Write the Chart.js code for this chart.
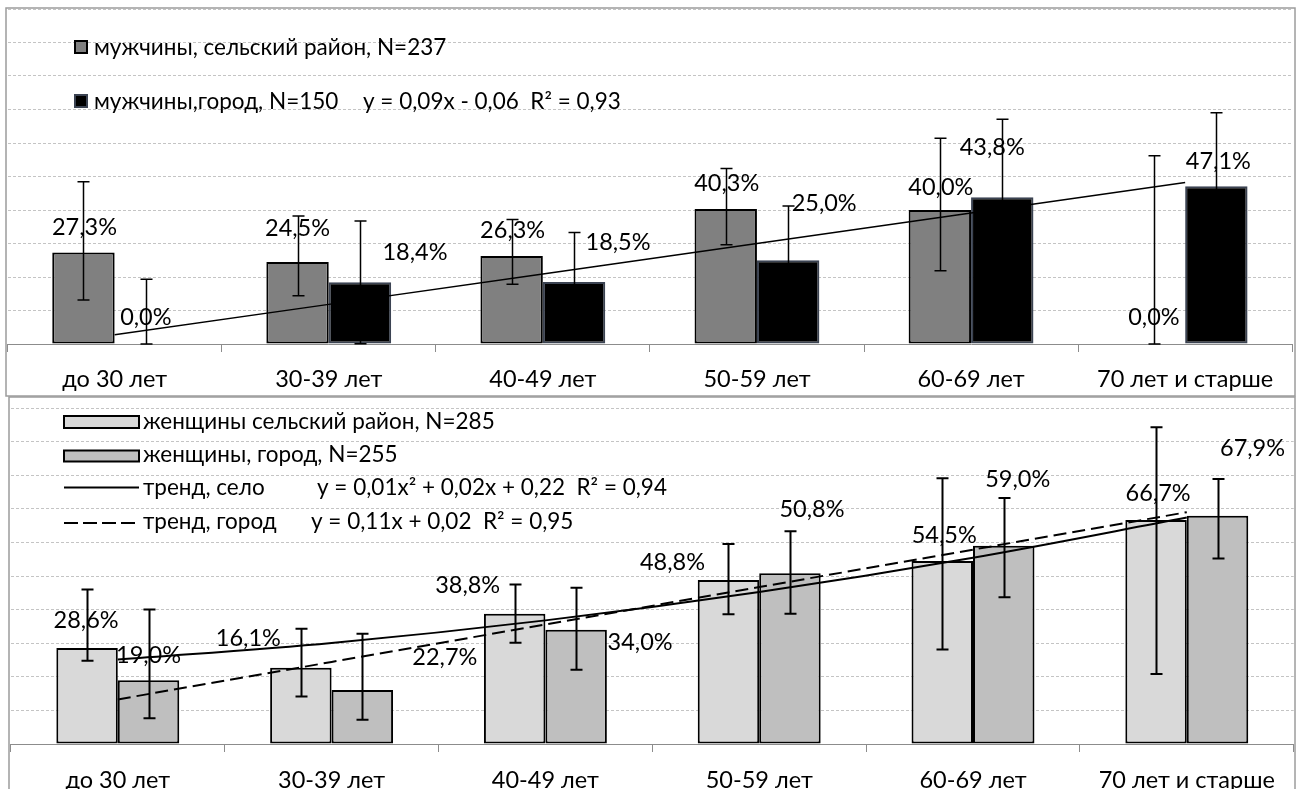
<!DOCTYPE html>
<html lang="ru">
<head>
<meta charset="utf-8">
<title>Доля по возрастным группам: мужчины и женщины, село и город</title>
<script src="https://cdn.jsdelivr.net/npm/chart.js@4.4.1/dist/chart.umd.min.js"></script>
<style>
  html, body { margin: 0; padding: 0; background: #fff; }
  body { width: 1298px; height: 789px; position: relative; overflow: hidden; }
  .box { position: absolute; left: 0; width: 1298px; }
  #boxMen { top: 0; height: 397px; }
  #boxWomen { top: 396px; height: 393px; }
  canvas { display: block; }
</style>
</head>
<body>
<div class="box" id="boxMen"><canvas id="men" width="1298" height="397"></canvas></div>
<div class="box" id="boxWomen"><canvas id="women" width="1298" height="393"></canvas></div>
<script>
// ---- data ----
const ageGroups = ['до 30 лет', '30-39 лет', '40-49 лет', '50-59 лет', '60-69 лет', '70 лет и старше'];

// men, %
const menRural   = [27.3, 24.5, 26.3, 40.3, 40.0, 0.0];
const menRuralHi = [48.4, 38.2, 37.2, 52.4, 61.4, 56.2];
const menRuralLo = [13.1, 14.4, 17.8, 29.6, 21.9, 0.0];
const menCity    = [0.0, 18.4, 18.5, 25.0, 43.8, 47.1];
const menCityHi  = [19.3, 36.7, 33.3, 41.2, 67.1, 69.0];
const menCityLo  = [0.0, 0.1, 3.7, 8.8, 20.5, 25.2];

// women, %
const womenRural   = [28.6, 22.7, 38.8, 48.8, 54.5, 66.7];
const womenRuralHi = [46.0, 34.3, 47.5, 59.5, 79.1, 94.3];
const womenRuralLo = [24.8, 14.1, 30.1, 38.6, 28.1, 20.8];
const womenCity    = [19.0, 16.1, 34.0, 50.8, 59.0, 67.9];
const womenCityHi  = [40.0, 32.8, 46.5, 63.3, 73.2, 78.9];
const womenCityLo  = [7.7, 7.2, 22.1, 38.8, 43.7, 55.2];

// value axis, %
const yMin = 0, yMax = 100, yStep = 10;

// legend texts
const menLegend = ['мужчины, сельский район, N=237', 'мужчины,город, N=150'];
const menTrendEq = 'y = 0,09x - 0,06  R² = 0,93';
const womenLegend = ['женщины сельский район, N=285', 'женщины, город, N=255', 'тренд, село', 'тренд, город'];
const womenTrendEq = ['y = 0,01x² + 0,02x + 0,22  R² = 0,94', 'y = 0,11x + 0,02  R² = 0,95'];

// where each value label sits relative to the top centre of its bar (px)
const menRuralLabelShift   = [[1, -25], [0, -34], [1, -25], [1, -26], [1, -23], [0, -27]];
const menCityLabelShift    = [[0, -27], [55, -30], [44, -40], [36, -57], [-10, -50], [2, -25]];
const womenRuralLabelShift = [[-1, -27], [144, -10], [-47, -28], [-56, -18], [2, -25], [2, -26]];
const womenCityLabelShift  = [[0, -25], [-114, -51], [64, 13], [22, -64], [14, -66], [35, -67]];

// ---- least-squares trend on x = 1..n ----
function trendLine(ys, degree) {
  const n = ys.length, m = degree + 1;
  const A = Array.from({length: m}, () => new Array(m + 1).fill(0));
  for (let i = 0; i < n; i++) {
    const x = i + 1;
    for (let r = 0; r < m; r++) {
      for (let c = 0; c < m; c++) A[r][c] += Math.pow(x, r + c);
      A[r][m] += ys[i] * Math.pow(x, r);
    }
  }
  for (let col = 0; col < m; col++) {
    let piv = col;
    for (let r = col + 1; r < m; r++) if (Math.abs(A[r][col]) > Math.abs(A[piv][col])) piv = r;
    [A[col], A[piv]] = [A[piv], A[col]];
    for (let r = 0; r < m; r++) {
      if (r === col) continue;
      const f = A[r][col] / A[col][col];
      for (let c = col; c <= m; c++) A[r][c] -= f * A[col][c];
    }
  }
  const coef = A.map((row, i) => row[m] / row[i]);
  return ys.map((_, i) => coef.reduce((s, a, k) => s + a * Math.pow(i + 1, k), 0));
}

const FONT = 'Lato, "Open Sans", sans-serif';
const FSIZE = 23.5;      // axis and value labels
const LEGEND_FSIZE = 22.5;
const fmt = v => v.toFixed(1).replace('.', ',') + '%';

// value labels, then error bars on top of them
const barExtras = {
  id: 'barExtras',
  afterDatasetsDraw(chart, args, opts) {
    const ctx = chart.ctx, y = chart.scales.y;
    ctx.save();
    ctx.font = FSIZE + 'px ' + FONT;
    ctx.fillStyle = '#000';
    ctx.textAlign = 'center';
    ctx.textBaseline = 'middle';
    chart.data.datasets.forEach((ds, di) => {
      if (!ds.labelShift) return;
      chart.getDatasetMeta(di).data.forEach((bar, i) => {
        const s = ds.labelShift[i];
        ctx.fillText(fmt(ds.data[i]), bar.x + s[0], bar.y + s[1]);
      });
    });
    ctx.strokeStyle = '#000';
    ctx.lineWidth = opts.width;
    chart.data.datasets.forEach((ds, di) => {
      if (!ds.errHi) return;
      chart.getDatasetMeta(di).data.forEach((bar, i) => {
        const x = Math.round(bar.x) + 0.5;
        const yH = y.getPixelForValue(ds.errHi[i]);
        const yL = y.getPixelForValue(ds.errLo[i]);
        ctx.beginPath();
        ctx.moveTo(x, yH); ctx.lineTo(x, yL);
        ctx.moveTo(x - opts.cap, yH); ctx.lineTo(x + opts.cap, yH);
        ctx.moveTo(x - opts.cap, yL); ctx.lineTo(x + opts.cap, yL);
        ctx.stroke();
      });
    });
    ctx.restore();
  }
};

// outer frame and the legend block inside the plot
const frameAndLegend = {
  id: 'frameAndLegend',
  afterDraw(chart, args, opts) {
    const ctx = chart.ctx;
    ctx.save();
    const f = opts.frame;
    ctx.strokeStyle = '#9c9c9c';
    ctx.lineWidth = 1.5;
    ctx.strokeRect(f[0], f[1], f[2] - f[0], f[3] - f[1]);
    ctx.font = LEGEND_FSIZE + 'px ' + FONT;
    ctx.fillStyle = '#000';
    ctx.textAlign = 'left';
    ctx.textBaseline = 'middle';
    opts.items.forEach(it => {
      if (it.kind === 'box') {
        ctx.fillStyle = it.fill;
        ctx.fillRect(it.x, it.y, it.w, it.h);
        ctx.strokeStyle = it.stroke;
        ctx.lineWidth = 2;
        ctx.strokeRect(it.x, it.y, it.w, it.h);
      } else {
        ctx.strokeStyle = '#000';
        ctx.lineWidth = 2;
        ctx.setLineDash(it.dash || []);
        ctx.beginPath();
        ctx.moveTo(it.x, it.y);
        ctx.lineTo(it.x + it.w, it.y);
        ctx.stroke();
        ctx.setLineDash([]);
      }
      ctx.fillStyle = '#000';
      ctx.fillText(it.text, it.tx, it.ty);
      if (it.eq) ctx.fillText(it.eq, it.ex, it.ty);
    });
    ctx.restore();
  }
};

function options(c) {
  return {
    responsive: false,
    animation: false,
    devicePixelRatio: 1,
    layout: { padding: { left: c.left, right: c.right, top: c.top, bottom: 0 } },
    plugins: {
      legend: { display: false },
      tooltip: { enabled: false },
      barExtras: { width: c.errWidth, cap: 6 },
      frameAndLegend: { frame: c.frame, items: c.legend }
    },
    scales: {
      x: {
        grid: { offset: true, drawOnChartArea: false, drawTicks: true, tickLength: 8, color: '#8c8c8c', lineWidth: 1 },
        border: { display: true, color: '#8c8c8c', width: 1 },
        ticks: { padding: c.tickPad, color: '#000', font: { family: FONT, size: FSIZE }, maxRotation: 0, autoSkip: false },
        afterFit(s) { s.height = c.axisH; }
      },
      y: {
        min: yMin, max: yMax,
        ticks: { display: false, stepSize: yStep },
        grid: { color: '#c4c4c4', lineWidth: 1, drawTicks: false },
        border: { display: false, dash: [3, 2] },
        afterFit(s) { s.width = 0; }
      }
    }
  };
}

function draw() {
  Chart.defaults.font.family = FONT;
  Chart.defaults.font.size = FSIZE;
  Chart.defaults.color = '#000';

  new Chart(document.getElementById('men'), {
    type: 'bar',
    data: {
      labels: ageGroups,
      datasets: [
        { type: 'line', data: trendLine(menCity, 1), borderColor: '#000', borderWidth: 1.5,
          pointRadius: 0, tension: 0, order: 0 },
        { label: menLegend[0], data: menRural, backgroundColor: '#808080', borderColor: '#000',
          borderWidth: ctx => (ctx.raw === 0 ? 0 : 2), borderSkipped: false,
          categoryPercentage: 0.583, barPercentage: 1, order: 1,
          errHi: menRuralHi, errLo: menRuralLo, labelShift: menRuralLabelShift },
        { label: menLegend[1], data: menCity, backgroundColor: '#000', borderColor: '#3b4352',
          borderWidth: ctx => (ctx.raw === 0 ? 0 : 2), borderSkipped: false,
          categoryPercentage: 0.583, barPercentage: 1, order: 1,
          errHi: menCityHi, errLo: menCityLo, labelShift: menCityLabelShift }
      ]
    },
    options: options({
      left: 7.6, right: 5.8, top: 9, axisH: 53, tickPad: 13, errWidth: 1.5,
      frame: [6, 8, 1295, 396],
      legend: [
        { kind: 'box', x: 75, y: 41, w: 12, h: 12, fill: '#808080', stroke: '#000',
          text: menLegend[0], tx: 94, ty: 48 },
        { kind: 'box', x: 75, y: 95, w: 12, h: 12, fill: '#000', stroke: '#3b4352',
          text: menLegend[1], tx: 94, ty: 101.5, eq: menTrendEq, ex: 363 }
      ]
    }),
    plugins: [barExtras, frameAndLegend]
  });

  new Chart(document.getElementById('women'), {
    type: 'bar',
    data: {
      labels: ageGroups,
      datasets: [
        { type: 'line', data: trendLine(womenRural, 2), borderColor: '#000', borderWidth: 2,
          pointRadius: 0, cubicInterpolationMode: 'monotone', order: 0 },
        { type: 'line', data: trendLine(womenCity, 1), borderColor: '#000', borderWidth: 2,
          borderDash: [13, 6], pointRadius: 0, tension: 0, order: 0 },
        { label: womenLegend[0], data: womenRural, backgroundColor: '#d9d9d9', borderColor: '#000',
          borderWidth: 2, borderSkipped: false, categoryPercentage: 0.575, barPercentage: 1, order: 1,
          errHi: womenRuralHi, errLo: womenRuralLo, labelShift: womenRuralLabelShift },
        { label: womenLegend[1], data: womenCity, backgroundColor: '#bfbfbf', borderColor: '#000',
          borderWidth: 2, borderSkipped: false, categoryPercentage: 0.575, barPercentage: 1, order: 1,
          errHi: womenCityHi, errLo: womenCityLo, labelShift: womenCityLabelShift }
      ]
    },
    options: options({
      left: 10.9, right: 4.3, top: 12, axisH: 45, tickPad: 14, errWidth: 2,
      frame: [9, 1, 1295, 400],
      legend: [
        { kind: 'box', x: 64, y: 20, w: 75, h: 12, fill: '#d9d9d9', stroke: '#000',
          text: womenLegend[0], tx: 143, ty: 25.5 },
        { kind: 'box', x: 64, y: 54.5, w: 75, h: 11, fill: '#bfbfbf', stroke: '#000',
          text: womenLegend[1], tx: 143, ty: 59 },
        { kind: 'line', x: 64, y: 91.5, w: 75,
          text: womenLegend[2], tx: 143, ty: 91.5, eq: womenTrendEq[0], ex: 317 },
        { kind: 'line', x: 64, y: 127, w: 75, dash: [14, 5],
          text: womenLegend[3], tx: 143, ty: 126, eq: womenTrendEq[1], ex: 311 }
      ]
    }),
    plugins: [barExtras, frameAndLegend]
  });
}

if (document.fonts && document.fonts.load) {
  document.fonts.load(FSIZE + 'px Lato').then(draw, draw);
} else {
  draw();
}
</script>
</body>
</html>
